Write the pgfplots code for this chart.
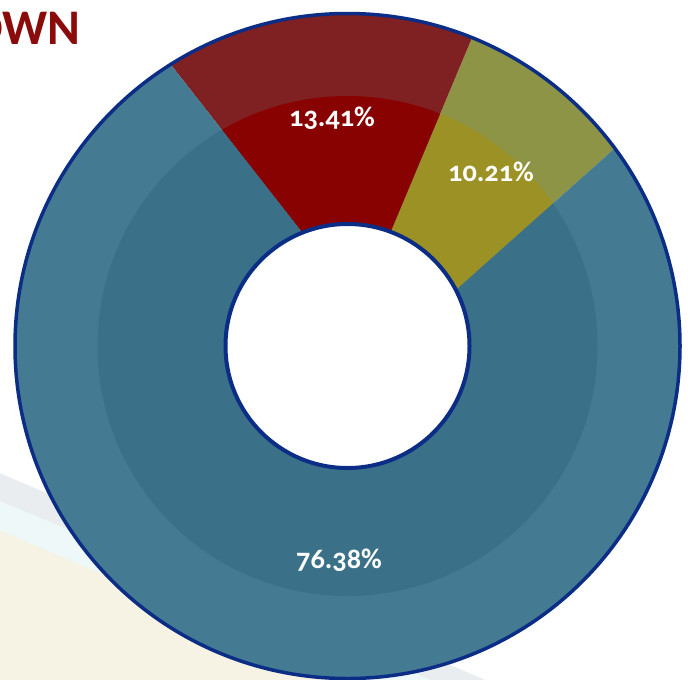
\documentclass[border=0pt]{standalone}
\usepackage{fontspec}
\setmainfont{Carlito}
\newfontfamily\labfont[Numbers=OldStyle]{Carlito}
\usepackage{pgfplots}
\usepackage{pgfplotstable}
\pgfplotsset{compat=1.18}
\definecolor{blueOut}{HTML}{447B93}
\definecolor{blueIn}{HTML}{3B7089}
\definecolor{redOut}{HTML}{7F2022}
\definecolor{redIn}{HTML}{880202}
\definecolor{oliveOut}{HTML}{8E9446}
\definecolor{oliveIn}{HTML}{9B9125}
\definecolor{ringBorder}{HTML}{0B2D86}
\definecolor{titleRed}{HTML}{8B0A0A}
\definecolor{bgGray}{HTML}{E9EDF0}
\definecolor{bgCyan}{HTML}{EEF8F9}
\definecolor{bgBeige}{HTML}{F7F3E4}

\pgfplotstableread{
name value
olive 10.21
red 13.41
blue 76.38
}\piedata
% boundary angles (counter-clockwise from east)
\pgfmathsetmacro\aA{31.9}
\pgfplotstablegetelem{0}{value}\of\piedata
\pgfmathsetmacro\aB{\aA+3.6*\pgfplotsretval}
\pgfplotstablegetelem{1}{value}\of\piedata
\pgfmathsetmacro\aC{\aB+3.6*\pgfplotsretval}
\pgfplotstablegetelem{2}{value}\of\piedata
\pgfmathsetmacro\aD{\aC+3.6*\pgfplotsretval}
% slight skew of the slice edges, as drawn in the reference
\pgfmathsetmacro\oA{\aA+4.6}\pgfmathsetmacro\hA{\aA-4.6}
\pgfmathsetmacro\oB{\aB-0.65}\pgfmathsetmacro\hB{\aB+0.65}
\pgfmathsetmacro\oC{\aC+5.2}\pgfmathsetmacro\hC{\aC-5.2}
\pgfmathsetmacro\oD{\oA+360}\pgfmathsetmacro\hD{\hA+360}

\newcommand\slice[5]{% color, hole angle 1, outer angle 1, outer angle 2, hole angle 2
  \fill[#1] (axis cs:347.5,346) -- ++(#2:1.22in) -- ($(axis cs:347.5,346)+(#3:3.33in)$)
    arc[start angle=#3, end angle=#4, radius=3.33in] -- ($(axis cs:347.5,346)+(#5:1.22in)$) -- cycle;}
\usetikzlibrary{calc}

\begin{document}
\begin{tikzpicture}
\begin{axis}[at={(0,0)},anchor=south west, scale only axis,
  width=6.94in, height=6.79in,
  xmin=0, xmax=694, ymin=0, ymax=679, y dir=reverse,
  axis lines=none, clip=true]
% background stripes
\addplot[fill=bgGray, draw=none] coordinates {(-10,469) (720,780) (720,900) (-10,900)} -- cycle;
\addplot[fill=bgCyan, draw=none] coordinates {(-10,497) (720,800) (720,900) (-10,900)} -- cycle;
\addplot[fill=bgBeige, draw=none] coordinates {(-10,526) (720,840) (720,900) (-10,900)} -- cycle;
% outer slices
\slice{oliveOut}{\hA}{\oA}{\oB}{\hB}
\slice{redOut}{\hB}{\oB}{\oC}{\hC}
\slice{blueOut}{\hC}{\oC}{\oD}{\hD}
% inner darker ring
\begin{scope}
\clip (axis cs:347.5,346) circle[radius=2.5in];
\slice{oliveIn}{\hA}{\oA}{\oB}{\hB}
\slice{redIn}{\hB}{\oB}{\oC}{\hC}
\slice{blueIn}{\hC}{\oC}{\oD}{\hD}
\end{scope}
% borders
\draw[ringBorder, line width=0.035in] (axis cs:347.5,346) circle[radius=3.325in];
\filldraw[fill=white, draw=ringBorder, line width=0.04in] (axis cs:347.5,346) circle[radius=1.22in];
% labels
\node[text=white, font=\labfont\bfseries\fontsize{20.5}{22}\selectfont] at (axis cs:332,118) {13.41\%};
\node[text=white, font=\labfont\bfseries\fontsize{20.5}{22}\selectfont] at (axis cs:491,172) {10.21\%};
\node[text=white, font=\labfont\bfseries\fontsize{20.5}{22}\selectfont] at (axis cs:339,560) {76.38\%};
% title
\node[anchor=base east, text=titleRed, font=\bfseries\fontsize{36}{40}\selectfont, inner sep=0pt] at (axis cs:81,45) {BREAKDOWN};
\end{axis}
\pgfresetboundingbox
\path[use as bounding box] (current axis.south west) rectangle (current axis.north east);
\end{tikzpicture}
\end{document}
